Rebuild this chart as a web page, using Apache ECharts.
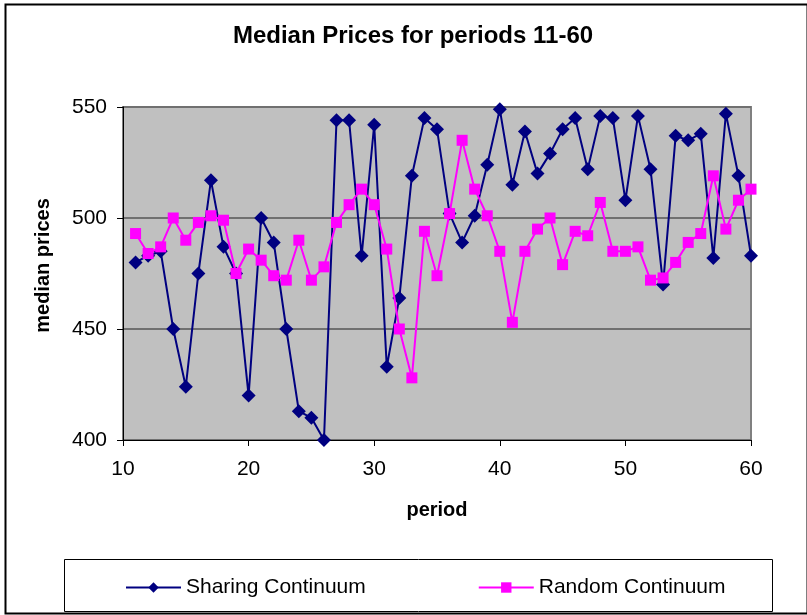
<!DOCTYPE html>
<html>
<head>
<meta charset="utf-8">
<script src="https://cdn.jsdelivr.net/npm/echarts@6/dist/echarts.min.js"></script>
<style>
html,body{margin:0;padding:0;background:#fff;}
#chart{width:807px;height:615px;}
</style>
</head>
<body>
<div id="chart"></div>
<script>
var periods = [11,12,13,14,15,16,17,18,19,20,21,22,23,24,25,26,27,28,29,30,31,32,33,34,35,36,37,38,39,40,41,42,43,44,45,46,47,48,49,50,51,52,53,54,55,56,57,58,59,60];
var sharingContinuum = [480,483,485,450,424,475,517,487,475,420,500,489,450,413,410,400,544,544,483,542,433,464,519,545,540,502,489,501,524,549,515,539,520,529,540,545,522,546,545,508,546,522,470,537,535,538,482,547,519,483];
var randomContinuum = [493,484,487,500,490,498,501,499,475,486,481,474,472,490,472,478,498,506,513,506,486,450,428,494,474,502,535,513,501,485,453,485,495,500,479,494,492,507,485,485,487,472,473,480,489,493,519,495,508,513];
var xTicks = {min: 10, max: 60, interval: 10};
var yTicks = {min: 400, max: 550, interval: 50};

function pairs(xs, ys) { return xs.map(function (x, i) { return [x, ys[i]]; }); }

var FONT = '"Liberation Sans", Arial, sans-serif';
var chart = echarts.init(document.getElementById('chart'), null, {renderer: 'canvas'});
chart.setOption({
  animation: false,
  backgroundColor: '#ffffff',
  title: {
    text: 'Median Prices for periods 11-60',
    left: 408, top: 19, textAlign: 'center',
    textStyle: {fontFamily: FONT, fontSize: 24, fontWeight: 'bold', color: '#000'}
  },
  grid: {
    left: 123, right: 56, top: 107, bottom: 175,
    show: true, backgroundColor: '#C0C0C0', borderColor: '#808080', borderWidth: 2
  },
  legend: {
    left: 120, top: 572,
    itemWidth: 55, itemHeight: 13, itemGap: 112,
    textStyle: {fontFamily: FONT, fontSize: 21, color: '#000'},
    data: ['Sharing Continuum', 'Random Continuum']
  },
  xAxis: {
    type: 'value', min: xTicks.min, max: xTicks.max, interval: xTicks.interval,
    name: 'period', nameLocation: 'middle', nameGap: 60,
    nameTextStyle: {fontFamily: FONT, fontSize: 20, fontWeight: 'bold', color: '#000'},
    axisLine: {show: true, lineStyle: {color: '#000', width: 1}},
    axisTick: {show: true, length: 6, lineStyle: {color: '#000'}},
    axisLabel: {fontFamily: FONT, fontSize: 21, color: '#000', margin: 19},
    splitLine: {show: false}
  },
  yAxis: {
    type: 'value', min: yTicks.min, max: yTicks.max, interval: yTicks.interval,
    name: 'median prices', nameLocation: 'middle', nameGap: 70,
    nameTextStyle: {fontFamily: FONT, fontSize: 20, fontWeight: 'bold', color: '#000', padding: [0, 0, 0, 16]},
    axisLine: {show: true, lineStyle: {color: '#000', width: 1}},
    axisTick: {show: true, length: 6, lineStyle: {color: '#000'}},
    axisLabel: {fontFamily: FONT, fontSize: 21, color: '#000', margin: 16},
    splitLine: {show: true, lineStyle: {color: '#707070', width: 2}}
  },
  series: [
    {
      name: 'Sharing Continuum', type: 'line',
      data: pairs(periods, sharingContinuum),
      symbol: 'diamond', symbolSize: 14, showAllSymbol: true,
      lineStyle: {color: '#000080', width: 2},
      itemStyle: {color: '#000080'},
      z: 3
    },
    {
      name: 'Random Continuum', type: 'line',
      data: pairs(periods, randomContinuum),
      symbol: 'rect', symbolSize: 11, showAllSymbol: true,
      lineStyle: {color: '#FF00FF', width: 2},
      itemStyle: {color: '#FF00FF'},
      z: 4
    }
  ],
  graphic: [
    {type: 'rect', left: 3, top: 2, shape: {x: 0, y: 0, width: 802, height: 609},
     style: {fill: 'none', stroke: '#000', lineWidth: 2}, silent: true, z: 0},
    {type: 'rect', shape: {x: 64.5, y: 559.5, width: 708, height: 52},
     style: {fill: 'none', stroke: '#000', lineWidth: 1}, silent: true, z: 0}
  ]
});
</script>
</body>
</html>
